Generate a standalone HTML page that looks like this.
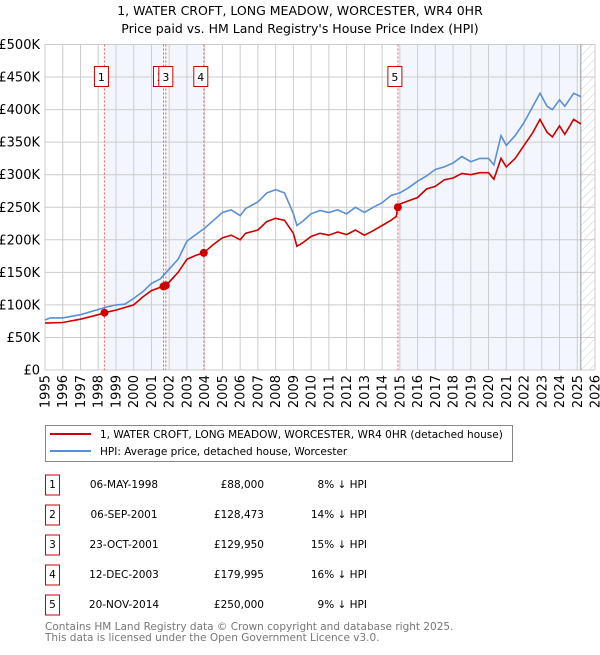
<!DOCTYPE html>
<html><head><meta charset="utf-8"><style>
body{margin:0;background:#fff;font-family:"Liberation Sans","DejaVu Sans",sans-serif;}
svg text{font-family:"DejaVu Sans","Liberation Sans",sans-serif;}
</style></head><body>
<svg id="chart" width="600" height="650" xmlns="http://www.w3.org/2000/svg">
<defs><pattern id="hatch" width="6" height="6" patternUnits="userSpaceOnUse" patternTransform="rotate(45)"><line x1="0" y1="0" x2="0" y2="6" stroke="#ccc" stroke-width="1"/></pattern></defs>
<text x="300" y="15" text-anchor="middle" font-size="12.5">1, WATER CROFT, LONG MEADOW, WORCESTER, WR4 0HR</text>
<text x="300" y="33" text-anchor="middle" font-size="12.5">Price paid vs. HM Land Registry's House Price Index (HPI)</text>
<g id="plot"></g>
<g>
<rect x="45.5" y="425.5" width="467" height="36" fill="#fff" stroke="#888"/>
<line x1="50" y1="434" x2="91" y2="434" stroke="#cc0000" stroke-width="2"/>
<text x="100" y="438" font-size="10.5">1, WATER CROFT, LONG MEADOW, WORCESTER, WR4 0HR (detached house)</text>
<line x1="50" y1="451" x2="91" y2="451" stroke="#5b8fd4" stroke-width="2"/>
<text x="100" y="455" font-size="10.5">HPI: Average price, detached house, Worcester</text>
</g>
<g id="table"></g>
<text x="45" y="630" font-size="10.5" fill="#777">Contains HM Land Registry data © Crown copyright and database right 2025.</text>
<text x="45" y="641" font-size="10.5" fill="#777">This data is licensed under the Open Government Licence v3.0.</text>
</svg>
<script>
const hpiYears=[1995,1995.3,1996,1997,1998,1998.5,1999,1999.5,2000,2000.5,2001,2001.5,2002,2002.5,2003,2003.5,2004,2004.5,2005,2005.5,2006,2006.3,2007,2007.5,2008,2008.5,2009,2009.2,2009.5,2010,2010.5,2011,2011.5,2012,2012.5,2013,2013.5,2014,2014.5,2015,2015.5,2016,2016.5,2017,2017.5,2018,2018.5,2019,2019.5,2020,2020.3,2020.7,2021,2021.5,2022,2022.5,2022.9,2023.3,2023.6,2024,2024.3,2024.8,2025.2];
const hpiValues=[77,80,80,85,93,97,100,101,110,120,133,140,155,170,198,208,218,230,242,246,237,248,258,272,277,272,240,222,228,240,245,242,246,240,250,242,250,257,268,272,280,290,298,308,312,318,328,320,325,325,315,360,345,360,380,405,425,405,400,415,405,425,420];
const ppYears=[1995,1996,1997,1998,1998.35,1999,2000,2000.5,2001,2001.7,2002,2002.5,2003,2003.5,2003.95,2004.5,2005,2005.5,2006,2006.3,2007,2007.5,2008,2008.5,2009,2009.2,2009.5,2010,2010.5,2011,2011.5,2012,2012.5,2013,2013.5,2014,2014.5,2014.8,2014.88,2015,2015.5,2016,2016.5,2017,2017.5,2018,2018.5,2019,2019.5,2020,2020.3,2020.7,2021,2021.5,2022,2022.5,2022.9,2023.3,2023.6,2024,2024.3,2024.8,2025.2];
const ppValues=[72,73,78,85,88,92,100,112,122,129,135,150,170,176,180,193,203,207,200,210,215,228,233,230,210,190,195,205,210,207,212,208,215,207,214,222,230,236,250,255,260,265,278,282,292,295,302,300,303,303,293,325,312,325,345,365,385,365,358,375,362,385,378];
const saleLabels=["1","2","3","4","5"];
const saleDates=["06-MAY-1998","06-SEP-2001","23-OCT-2001","12-DEC-2003","20-NOV-2014"];
const saleYears=[1998.35,2001.68,2001.81,2003.95,2014.89];
const salePrices=[88000,128473,129950,179995,250000];
const salePriceText=["£88,000","£128,473","£129,950","£179,995","£250,000"];
const salePct=["8% ↓ HPI","14% ↓ HPI","15% ↓ HPI","16% ↓ HPI","9% ↓ HPI"];
const yTicks=[0,50,100,150,200,250,300,350,400,450,500];
const yTickLabels=["£0","£50K","£100K","£150K","£200K","£250K","£300K","£350K","£400K","£450K","£500K"];
const xTicks=[1995,1996,1997,1998,1999,2000,2001,2002,2003,2004,2005,2006,2007,2008,2009,2010,2011,2012,2013,2014,2015,2016,2017,2018,2019,2020,2021,2022,2023,2024,2025,2026];
const dataEnd=2025.2;

const L=45,R=595,T=44.5,B=370;
const X=y=>L+(y-1995)/(2026-1995)*(R-L);
const Y=v=>B-v/500*(B-T);
const NS="http://www.w3.org/2000/svg";
const plot=document.getElementById('plot');
function mk(tag,attrs,parent){const e=document.createElementNS(NS,tag);for(const k in attrs)e.setAttribute(k,attrs[k]);(parent||plot).appendChild(e);return e;}

let e;
e=mk('rect',{x:X(saleYears[0]),y:T,width:X(saleYears[3])-X(saleYears[0]),height:B-T,fill:'#eef3fc',opacity:0.7});


e=mk('rect',{x:X(saleYears[4]),y:T,width:X(dataEnd)-X(saleYears[4]),height:B-T,fill:'#eef3fc',opacity:0.7});


e=mk('rect',{x:X(dataEnd),y:T,width:R-X(dataEnd),height:B-T,fill:'url(#hatch)'});



yTicks.forEach((v,i)=>{
 e=mk('line',{x1:L,x2:R,y1:Y(v),y2:Y(v),stroke:'#ccc','stroke-width':1});
 
 
 e=mk('text',{x:40,y:Y(v)+4.5,'text-anchor':'end','font-size':13});
 e.textContent=yTickLabels[i];
 
 
});
xTicks.forEach(yr=>{
 e=mk('line',{x1:X(yr),x2:X(yr),y1:T,y2:B,stroke:'#ccc','stroke-width':1});
 
 
 e=mk('text',{x:0,y:0,'text-anchor':'end','font-size':13,transform:`translate(${X(yr)+4.5},${B+5}) rotate(-90)`});
 e.textContent=yr;
 
 
});
e=mk('line',{x1:X(dataEnd),x2:X(dataEnd),y1:T,y2:B,stroke:'#999','stroke-width':1});



saleYears.forEach((yr,i)=>{
 e=mk('line',{x1:X(yr),x2:X(yr),y1:T,y2:B,stroke:'#f06060','stroke-width':1,'stroke-dasharray':'2,2'});
 
 
});

function path(xs,vs,color,name){
 const d=xs.map((x,i)=>(i?'L':'M')+X(x).toFixed(1)+','+Y(vs[i]).toFixed(1)).join('');
 e=mk('path',{d:d,fill:'none',stroke:color,'stroke-width':1.6});
 
 
}
path(hpiYears,hpiValues,'#5b8fd4','hpi-line');
path(ppYears,ppValues,'#cc0000','price-paid-line');

saleYears.forEach((yr,i)=>{
 e=mk('circle',{cx:X(yr),cy:Y(salePrices[i]/1000),r:4,fill:'#cc0000'});
 
 
});
const boxOff=[-3,-3,0,-3,-3];
saleYears.forEach((yr,i)=>{
 const g=mk('g',{});
 
 
 const cx=X(yr)+boxOff[i];
 mk('rect',{x:cx-7,y:66.5,width:14,height:20,fill:'#fff',stroke:'#cc0000','stroke-width':1},g);
 const t=mk('text',{x:cx,y:81,'text-anchor':'middle','font-size':11},g);
 t.textContent=saleLabels[i];
});

const tbl=document.getElementById('table');
saleLabels.forEach((lab,i)=>{
 const y=483+i*30;
 const g=mk('g',{},tbl);
 
 
 mk('rect',{x:45.5,y:y-8,width:14,height:20,fill:'#fff',stroke:'#cc0000'},g);
 let t=mk('text',{x:52.5,y:y+5,'text-anchor':'middle','font-size':10.5},g);t.textContent=lab;
 t=mk('text',{x:124,y:y+5,'text-anchor':'middle','font-size':10.5},g);t.textContent=saleDates[i];
 t=mk('text',{x:264,y:y+5,'text-anchor':'end','font-size':10.5},g);t.textContent=salePriceText[i];
 t=mk('text',{x:367,y:y+5,'text-anchor':'end','font-size':10.5},g);t.textContent=salePct[i];
});
</script>
</body></html>
